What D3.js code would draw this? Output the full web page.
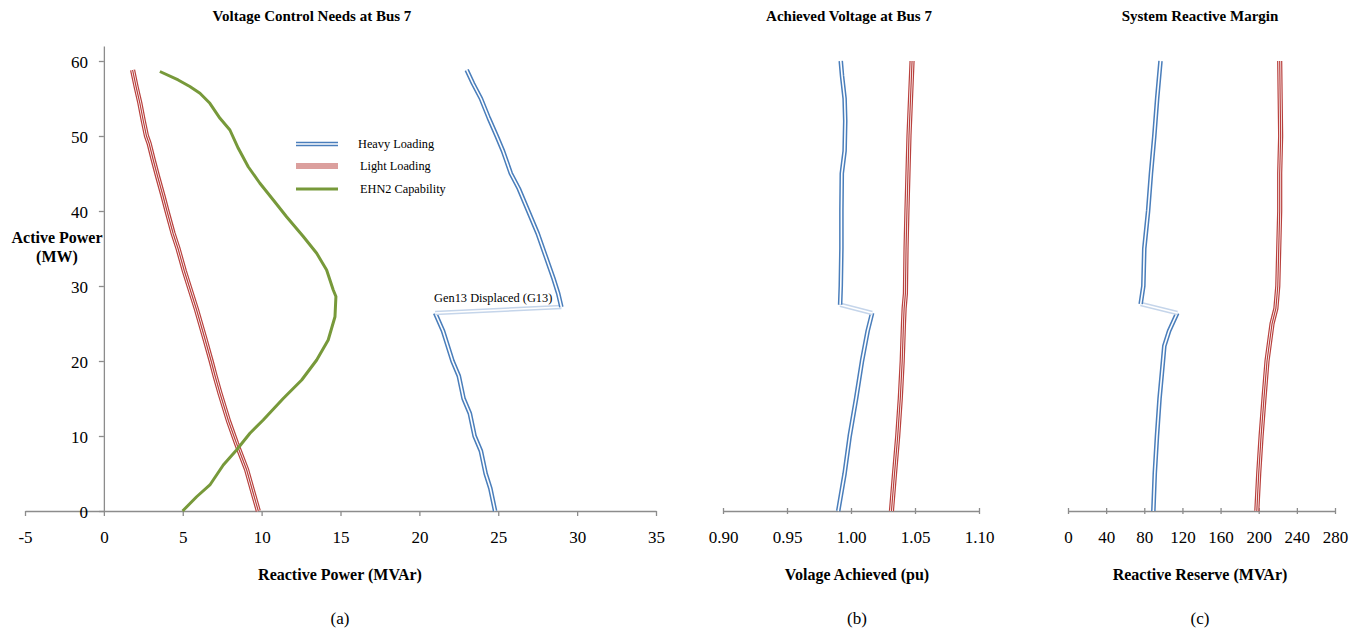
<!DOCTYPE html>
<html><head><meta charset="utf-8">
<script src="https://cdn.jsdelivr.net/npm/d3@7"></script>
<style>
body{margin:0;background:#fff;}
text{font-family:"Liberation Serif","Times New Roman",serif;fill:#000;}
</style></head>
<body><svg id="c" width="1361" height="630"></svg>
<script>
// ---------- DATA ----------
const yTicks = [0, 10, 20, 30, 40, 50, 60];
const xTicksA = [-5, 0, 5, 10, 15, 20, 25, 30, 35];
const xTicksB = [0.90, 0.95, 1.00, 1.05, 1.10];
const xTicksC = [0, 40, 80, 120, 160, 200, 240, 280];

// Panel (a) Voltage control needs (MVAr) vs active power (MW)
const heavyA_P = [0, 3, 5, 8, 10, 13, 15, 18, 20, 22, 24, 26.4, 27.2, 29, 31, 34, 37, 40, 43, 45, 48, 50, 52.4, 55, 57, 58.8];
const heavyA_Q = [24.8, 24.5, 24.2, 23.9, 23.5, 23.2, 22.8, 22.5, 22.1, 21.8, 21.5, 21.0, 29.0, 28.8, 28.5, 28.0, 27.5, 26.9, 26.3, 25.8, 25.3, 24.9, 24.4, 23.9, 23.4, 23.0];
const lightA_P = [0, 2.5, 5.5, 9, 12, 15.7, 18, 20, 23, 26.8, 29, 32, 35, 37, 40, 42, 44.5, 46.8, 49, 50, 52, 54.4, 56.5, 58.8];
const lightA_Q = [9.79, 9.45, 9.05, 8.41, 7.9, 7.36, 7.05, 6.8, 6.4, 5.88, 5.55, 5.1, 4.7, 4.39, 4.0, 3.75, 3.42, 3.13, 2.87, 2.7, 2.5, 2.28, 2.05, 1.82];
const ehnA_P = [0, 1.9, 3.47, 6.13, 8.13, 10.36, 12.13, 15.0, 17.47, 20.13, 22.8, 25.9, 28.6, 29.47, 32.13, 34.36, 36.6, 39.24, 41.47, 43.7, 45.9, 48.36, 50.8, 52.36, 54.36, 55.7, 56.6, 57.47, 58.6];
const ehnA_Q = [4.99, 5.88, 6.72, 7.57, 8.41, 9.26, 10.1, 11.37, 12.54, 13.49, 14.22, 14.65, 14.71, 14.54, 14.12, 13.49, 12.64, 11.58, 10.74, 9.89, 9.15, 8.52, 7.99, 7.36, 6.72, 6.09, 5.45, 4.71, 3.55];

// Panel (b) achieved voltage (pu)
const heavyB_P = [0, 5, 10, 15, 20, 24, 26.4, 27.5, 30, 35, 40, 45, 48, 52, 55, 58, 60];
const heavyB_V = [0.990, 0.995, 0.999, 1.004, 1.0086, 1.013, 1.0165, 0.9915, 0.992, 0.9925, 0.9925, 0.9928, 0.995, 0.9955, 0.995, 0.993, 0.992];
const lightB_P = [0, 5, 10, 15, 20, 25, 27, 29, 35, 40, 45, 50, 55, 60];
const lightB_V = [1.0316, 1.034, 1.0365, 1.0385, 1.040, 1.041, 1.0415, 1.0425, 1.043, 1.0437, 1.0445, 1.0453, 1.0465, 1.0477];

// Panel (c) reactive reserve (MVAr)
const heavyC_P = [0, 5, 10, 15, 20, 22, 24, 26.4, 27.6, 30, 35, 40, 45, 50, 55, 60];
const heavyC_R = [89.5, 91, 93.3, 96, 99.6, 101, 106, 114.6, 76.2, 79, 80, 84, 87, 90.5, 93.5, 97];
const lightC_P = [0, 5, 10, 15, 20, 25, 27, 30, 35, 40, 45, 50, 55, 60];
const lightC_R = [198, 200, 202.5, 205.5, 208.7, 214, 218, 220, 221, 222, 222, 223, 222.5, 222];

const legendLabels = ["Heavy Loading", "Light Loading", "EHN2 Capability"];

// ---------- DRAW ----------
const svg = d3.select("#c");
const AX = "#8c8c8c";
const BLUE = "#4a7ebb", BLUE_L = "#c5d5ea", RED = "#b8403d", GREEN = "#77993a";

const y = d3.scaleLinear().domain([0, 62]).range([511, 46]);
const xA = d3.scaleLinear().domain([-5, 35]).range([25, 656]);
const xB = d3.scaleLinear().domain([0.90, 1.10]).range([723, 979]);
const xC = d3.scaleLinear().domain([0, 280]).range([1068, 1335]);

const fmtInt = d => String(d);
const fmt2 = d => d.toFixed(2);

function zip(a, b) { return a.map((v, i) => [v, b[i]]); }

function drawHeavy(x, vals, P, jumpIdx) {
  const line = d3.line().x(d => x(d[0])).y(d => y(d[1]));
  const pts = zip(vals, P);
  const parts = [
    {d: pts.slice(0, jumpIdx), c: BLUE},
    {d: pts.slice(jumpIdx - 1, jumpIdx + 1), c: BLUE_L},
    {d: pts.slice(jumpIdx), c: BLUE}
  ];
  parts.forEach(p => {
    svg.append("path").attr("d", line(p.d)).attr("fill", "none").attr("stroke", p.c).attr("stroke-width", 4.6).attr("stroke-linejoin", "round");
    svg.append("path").attr("d", line(p.d)).attr("fill", "none").attr("stroke", "#fff").attr("stroke-width", 1.6).attr("stroke-linejoin", "round");
  });
}
function redStack(sel) {
  // returns list of [color,width] layers for the triple red line
  return [[RED, 5.2], ["#fff", 2.8], [RED, 1.2]];
}
function drawLight(x, vals, P) {
  const line = d3.line().x(d => x(d[0])).y(d => y(d[1]));
  const d = line(zip(vals, P));
  redStack().forEach(l => svg.append("path").attr("d", d).attr("fill", "none").attr("stroke", l[0]).attr("stroke-width", l[1]));
}

function styleAxis(g) {
  g.selectAll("path.domain").attr("stroke", AX).attr("stroke-width", 1.3);
  g.selectAll(".tick line").attr("stroke", AX).attr("stroke-width", 1.3);
  g.selectAll("text").attr("font-family", "Liberation Serif").attr("font-size", 17).attr("fill", "#000");
}

// Panel a axes
const gxa = svg.append("g").attr("transform", "translate(0,511)")
  .call(d3.axisBottom(xA).tickValues(xTicksA).tickFormat(fmtInt).tickSizeInner(5).tickSizeOuter(0).tickPadding(15));
styleAxis(gxa);
const gya = svg.append("g").attr("transform", `translate(${xA(0)},0)`)
  .call(d3.axisLeft(y).tickValues(yTicks).tickFormat(fmtInt).tickSizeInner(5).tickSizeOuter(0).tickPadding(11));
styleAxis(gya);
gya.selectAll("text").attr("dy", "0.36em");

// Panel b / c axes (crossing ticks)
function crossAxis(x, ticks, fmt) {
  const g = svg.append("g").attr("transform", "translate(0,511)")
    .call(d3.axisBottom(x).tickValues(ticks).tickFormat(fmt).tickSizeInner(3).tickSizeOuter(0).tickPadding(17));
  g.selectAll(".tick line").attr("y1", -3);
  styleAxis(g);
  return g;
}
crossAxis(xB, xTicksB, fmt2);
crossAxis(xC, xTicksC, fmtInt);

// Series
drawLight(xA, lightA_Q, lightA_P);
svg.append("path").attr("d", d3.line().x(d => xA(d[0])).y(d => y(d[1]))(zip(ehnA_Q, ehnA_P)))
  .attr("fill", "none").attr("stroke", GREEN).attr("stroke-width", 3).attr("stroke-linejoin", "round");
drawHeavy(xA, heavyA_Q, heavyA_P, heavyA_P.indexOf(27.2));

drawHeavy(xB, heavyB_V, heavyB_P, heavyB_P.indexOf(27.5));
drawLight(xB, lightB_V, lightB_P);

drawHeavy(xC, heavyC_R, heavyC_P, heavyC_P.indexOf(27.6));
drawLight(xC, lightC_R, lightC_P);

// Annotation
svg.append("text").attr("x", 434).attr("y", 302).attr("font-size", 12.4).text("Gen13 Displaced (G13)");

// Legend
const legY = [144, 166, 189];
legendLabels.forEach((lab, i) => {
  const yy = legY[i];
  const L = (c, w) => svg.append("line").attr("x1", 296).attr("x2", 338).attr("y1", yy).attr("y2", yy).attr("stroke", c).attr("stroke-width", w);
  if (i === 0) { L(BLUE, 4.6); L("#fff", 1.6); }
  else if (i === 1) { redStack().forEach(l => L(l[0], l[1])); }
  else { L(GREEN, 3); }
  svg.append("text").attr("x", i === 0 ? 358 : 360).attr("y", yy + 4).attr("font-size", 12.3).text(lab);
});

// Titles
const titles = [["Voltage Control Needs at Bus 7", 312], ["Achieved Voltage at Bus 7", 849], ["System Reactive Margin", 1200]];
titles.forEach(t => svg.append("text").attr("x", t[1]).attr("y", 21).attr("text-anchor", "middle")
  .attr("font-size", 15).attr("font-weight", "bold").text(t[0]));

const xTitles = [["Reactive Power (MVAr)", 340], ["Volage Achieved (pu)", 857], ["Reactive Reserve (MVAr)", 1200]];
xTitles.forEach(t => svg.append("text").attr("x", t[1]).attr("y", 580).attr("text-anchor", "middle")
  .attr("font-size", 16).attr("font-weight", "bold").text(t[0]));

const subs = [["(a)", 340], ["(b)", 857], ["(c)", 1200]];
subs.forEach(t => svg.append("text").attr("x", t[1]).attr("y", 624).attr("text-anchor", "middle")
  .attr("font-size", 17).text(t[0]));

// Y axis title
svg.append("text").attr("x", 57).attr("y", 243).attr("text-anchor", "middle").attr("font-size", 16).attr("font-weight", "bold").text("Active Power");
svg.append("text").attr("x", 57).attr("y", 262).attr("text-anchor", "middle").attr("font-size", 16).attr("font-weight", "bold").text("(MW)");
</script></body></html>
